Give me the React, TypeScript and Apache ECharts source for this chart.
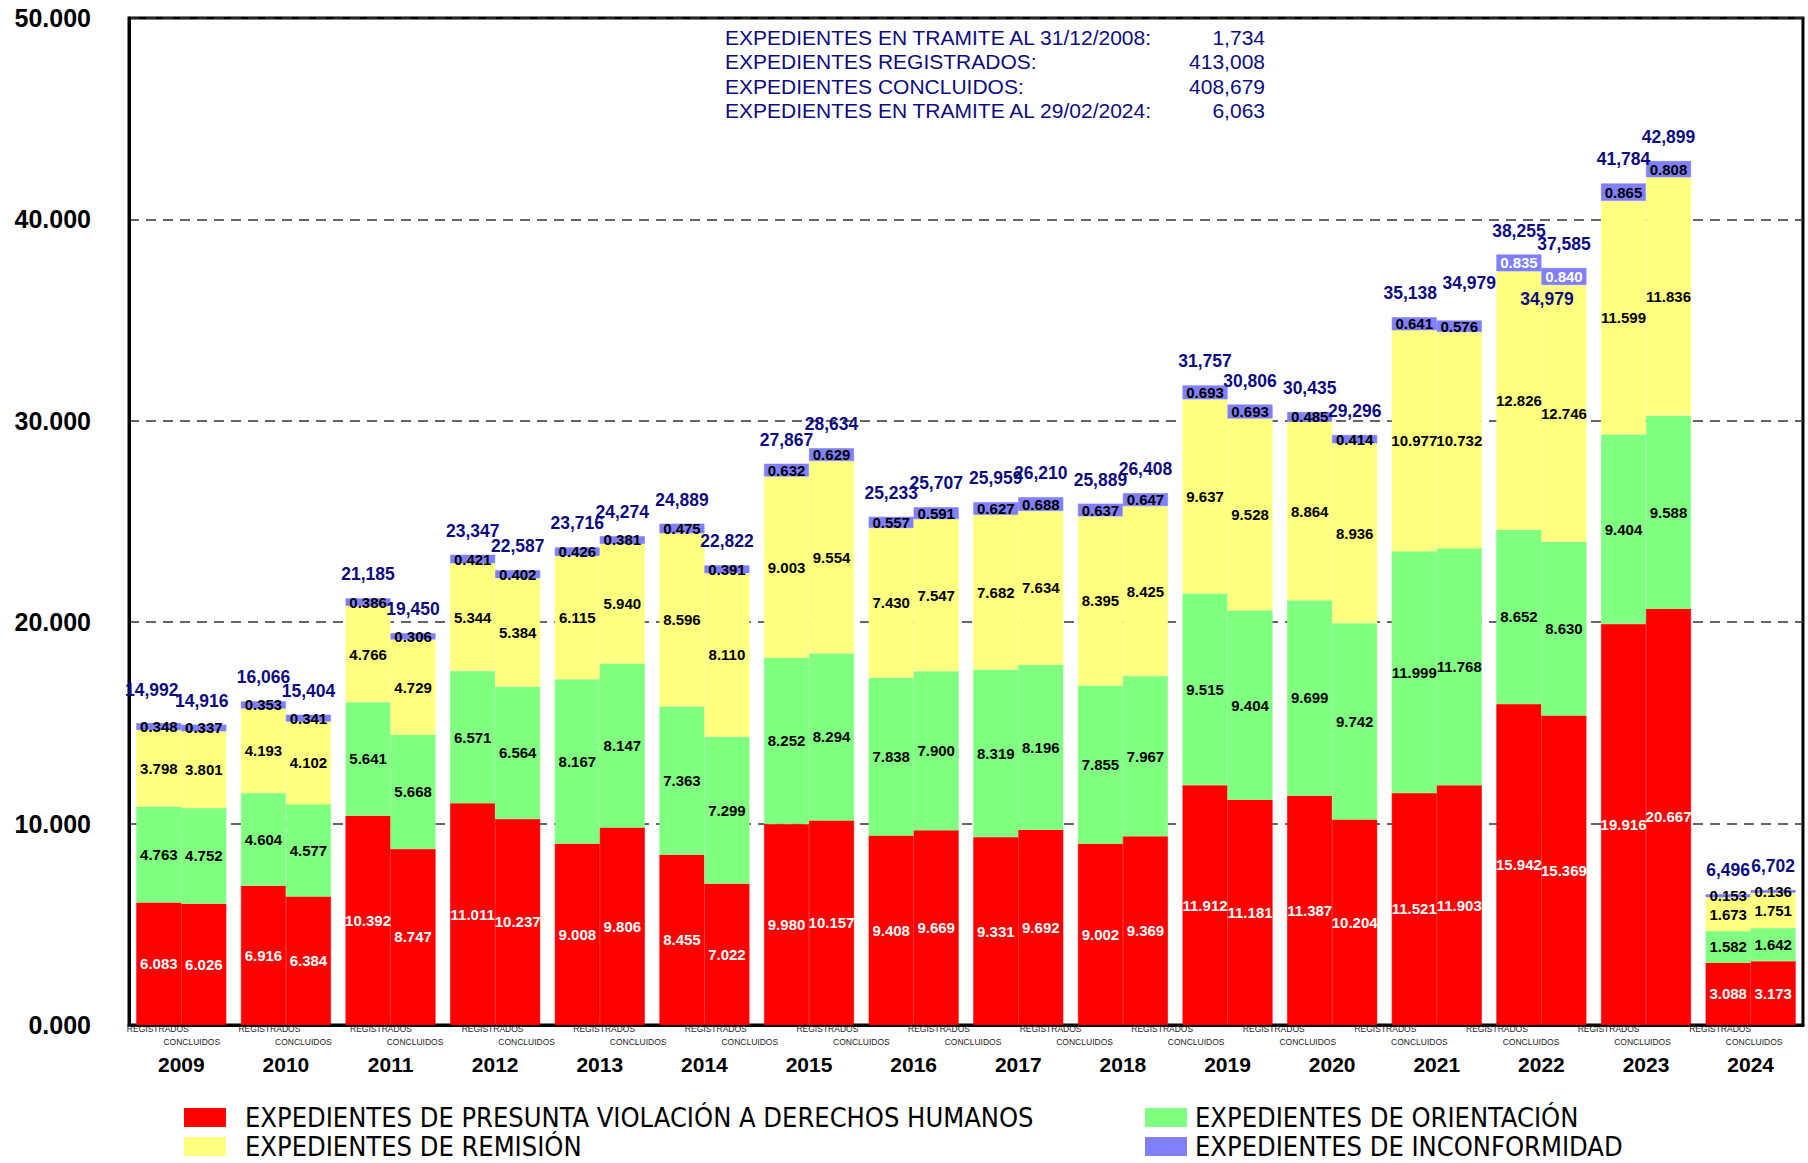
import React, { useEffect, useRef } from 'react';
import * as echarts from 'echarts';

const years = ['2009', '2010', '2011', '2012', '2013', '2014', '2015', '2016', '2017', '2018', '2019', '2020', '2021', '2022', '2023', '2024'];

const regViolacion = [6083, 6916, 10392, 11011, 9008, 8455, 9980, 9408, 9331, 9002, 11912, 11387, 11521, 15942, 19916, 3088];
const concViolacion = [6026, 6384, 8747, 10237, 9806, 7022, 10157, 9669, 9692, 9369, 11181, 10204, 11903, 15369, 20667, 3173];
const regOrientacion = [4763, 4604, 5641, 6571, 8167, 7363, 8252, 7838, 8319, 7855, 9515, 9699, 11999, 8652, 9404, 1582];
const concOrientacion = [4752, 4577, 5668, 6564, 8147, 7299, 8294, 7900, 8196, 7967, 9404, 9742, 11768, 8630, 9588, 1642];
const regRemision = [3798, 4193, 4766, 5344, 6115, 8596, 9003, 7430, 7682, 8395, 9637, 8864, 10977, 12826, 11599, 1673];
const concRemision = [3801, 4102, 4729, 5384, 5940, 8110, 9554, 7547, 7634, 8425, 9528, 8936, 10732, 12746, 11836, 1751];
const regInconformidad = [348, 353, 386, 421, 426, 475, 632, 557, 627, 637, 693, 485, 641, 835, 865, 153];
const concInconformidad = [337, 341, 306, 402, 381, 391, 629, 591, 688, 647, 693, 414, 576, 840, 808, 136];
const regTotals = [14992, 16066, 21185, 23347, 23716, 24889, 27867, 25233, 25959, 25889, 31757, 30435, 35138, 38255, 41784, 6496];
const concTotals = [14916, 15404, 19450, 22587, 24274, 22822, 28634, 25707, 26210, 26408, 30806, 29296, 34979, 37585, 42899, 6702];

// stray total label that appears inside the 2022 CONCLUIDOS bar in the original
const strayLabelYear = '2022';
const strayLabelValue = 34979;

// 15 slots for the small "REGISTRADOS / CONCLUIDOS" captions under the axis
const subCaptionSlots = ['1', '2', '3', '4', '5', '6', '7', '8', '9', '10', '11', '12', '13', '14', '15'];

const infoLabels = [
  'EXPEDIENTES EN TRAMITE AL 31/12/2008:',
  'EXPEDIENTES REGISTRADOS:',
  'EXPEDIENTES CONCLUIDOS:',
  'EXPEDIENTES EN TRAMITE AL 29/02/2024:',
];
const infoValues = ['1,734', '413,008', '408,679', '6,063'];

const NAME_VIOL = 'EXPEDIENTES DE PRESUNTA VIOLACIÓN A DERECHOS HUMANOS';
const NAME_ORI = 'EXPEDIENTES DE ORIENTACIÓN';
const NAME_REM = 'EXPEDIENTES DE REMISIÓN';
const NAME_INC = 'EXPEDIENTES DE INCONFORMIDAD';
const whiteInconfYears = ['2022'];

// small label nudges (style only) for total labels that sit off-centre in the original
const regTotalNudge: Record<string, number[]> = { '2009': [-7, -9], '2021': [-4, 0] };
const concTotalNudge: Record<string, number[]> = { '2009': [-2, 0], '2021': [10, -14] };

const CONDENSED = "'DejaVu Sans Condensed', 'Liberation Sans', sans-serif";
const SANS = "'Liberation Sans', Arial, sans-serif";
const NAVY = '#0c0c80';

const C_RED = '#ff0000';
const C_GREEN = '#80ff80';
const C_YELLOW = '#ffff80';
const C_BLUE = '#8080ff';

const fmtSeg = (v: number) => (v / 1000).toFixed(3);
const fmtTotal = (v: number) => v.toLocaleString('en-US');

function segSeries(name: string, stack: string, data: any[], color: string, labelColor: string) {
  return {
    name,
    type: 'bar',
    stack,
    stackStrategy: 'all',
    xAxisIndex: 0,
    barWidth: 45,
    barGap: '0%',
    itemStyle: { color, borderColor: color, borderWidth: 0.6 },
    label: {
      show: true,
      position: 'inside',
      color: labelColor,
      fontFamily: SANS,
      fontWeight: 'bold',
      fontSize: 15,
      formatter: (p: any) => fmtSeg(p.value),
    },
    emphasis: { disabled: true },
    data,
  };
}

function inconfData(values: number[]) {
  return values.map((v, i) => ({
    value: v,
    label: { color: whiteInconfYears.includes(years[i]) ? '#ffffff' : '#000000' },
  }));
}

function totalSeries(name: string, stack: string, totals: number[], nudges: Record<string, number[]>, extra: any = {}) {
  return {
    name,
    type: 'bar',
    stack,
    stackStrategy: 'all',
    xAxisIndex: 0,
    barWidth: 45,
    barGap: '0%',
    silent: true,
    itemStyle: { color: 'rgba(0,0,0,0)' },
    label: {
      show: true,
      position: 'top',
      distance: 15,
      color: NAVY,
      fontFamily: SANS,
      fontWeight: 'bold',
      fontSize: 17.5,
      formatter: (p: any) => fmtTotal(totals[p.dataIndex]),
    },
    data: totals.map((_, i) => (nudges[years[i]] ? { value: 0, label: { offset: nudges[years[i]] } } : 0)),
    ...extra,
  };
}

export default function App() {
  const ref = useRef<HTMLDivElement>(null);

  useEffect(() => {
    if (!ref.current) return;
    const chart = echarts.init(ref.current, undefined, { renderer: 'svg' });

    const graphic: any[] = [];
    infoLabels.forEach((t, i) => {
      graphic.push({
        type: 'text',
        x: 725,
        y: 37 + i * 24.6,
        style: { text: t, fontFamily: SANS, fontSize: 21, fill: NAVY, align: 'left', verticalAlign: 'middle' },
      });
    });
    infoValues.forEach((t, i) => {
      graphic.push({
        type: 'text',
        x: 1265,
        y: 37 + i * 24.6,
        style: { text: t, fontFamily: SANS, fontSize: 21, fill: NAVY, align: 'right', verticalAlign: 'middle' },
      });
    });

    const legendBase = {
      orient: 'vertical',
      top: 1104,
      height: 90,
      padding: 0,
      itemWidth: 40,
      itemHeight: 17,
      itemGap: 2,
      icon: 'rect',
      selectedMode: false,
    };

    const option: any = {
      animation: false,
      backgroundColor: '#ffffff',
      grid: {
        left: 129,
        right: 2,
        top: 18,
        bottom: 138,
        show: true,
        borderColor: '#000',
        borderWidth: 3,
        backgroundColor: 'rgba(0,0,0,0)',
        containLabel: false,
      },
      legend: [
        {
          ...legendBase,
          left: 184,
          data: [NAME_VIOL, NAME_REM],
          textStyle: { fontFamily: CONDENSED, fontSize: 27, color: '#000', lineHeight: 27, padding: [0, 0, 0, 15] },
        },
        {
          ...legendBase,
          left: 1145,
          data: [NAME_ORI, NAME_INC],
          textStyle: { fontFamily: CONDENSED, fontSize: 27, color: '#000', lineHeight: 27, padding: [0, 0, 0, 4] },
        },
      ],
      xAxis: [
        {
          type: 'category',
          data: years,
          position: 'bottom',
          axisLine: { show: true, lineStyle: { color: '#000', width: 3 } },
          axisTick: { show: false },
          splitLine: { show: false },
          axisLabel: {
            interval: 0,
            margin: 29,
            fontFamily: SANS,
            fontWeight: 'bold',
            fontSize: 21,
            color: '#000',
          },
        },
        {
          type: 'category',
          data: subCaptionSlots,
          position: 'bottom',
          axisLine: { show: false },
          axisTick: { show: false },
          splitLine: { show: false },
          axisLabel: {
            interval: 0,
            margin: -3,
            formatter: () => '{r|REGISTRADOS}\n{c|CONCLUIDOS}',
            rich: {
              r: { fontFamily: SANS, fontSize: 8.5, color: '#222', lineHeight: 13.5, padding: [0, 54, 0, 0] },
              c: { fontFamily: SANS, fontSize: 8.5, color: '#222', lineHeight: 13.5, padding: [0, 0, 0, 14] },
            },
          },
        },
      ],
      yAxis: {
        type: 'value',
        min: 0,
        max: 50000,
        interval: 10000,
        axisLine: { show: true, lineStyle: { color: '#000', width: 3 } },
        axisTick: { show: false },
        splitLine: { show: true, lineStyle: { color: '#333', width: 1.5, type: [10, 7] } },
        axisLabel: {
          margin: 38,
          fontFamily: SANS,
          fontWeight: 'bold',
          fontSize: 25,
          color: '#000',
          formatter: (v: number) => (v / 1000).toFixed(3),
        },
      },
      series: [
        segSeries(NAME_VIOL, 'reg', regViolacion, C_RED, '#ffffff'),
        segSeries(NAME_ORI, 'reg', regOrientacion, C_GREEN, '#000000'),
        segSeries(NAME_REM, 'reg', regRemision, C_YELLOW, '#000000'),
        segSeries(NAME_INC, 'reg', inconfData(regInconformidad), C_BLUE, '#000000'),
        totalSeries('TOTAL REGISTRADOS', 'reg', regTotals, regTotalNudge),
        segSeries(NAME_VIOL, 'conc', concViolacion, C_RED, '#ffffff'),
        segSeries(NAME_ORI, 'conc', concOrientacion, C_GREEN, '#000000'),
        segSeries(NAME_REM, 'conc', concRemision, C_YELLOW, '#000000'),
        segSeries(NAME_INC, 'conc', inconfData(concInconformidad), C_BLUE, '#000000'),
        totalSeries('TOTAL CONCLUIDOS', 'conc', concTotals, concTotalNudge, {
          markPoint: {
            symbol: 'rect',
            symbolSize: 1,
            itemStyle: { color: 'rgba(0,0,0,0)' },
            silent: true,
            label: {
              show: true,
              position: 'top',
              distance: 12,
              offset: [-17, 0],
              color: NAVY,
              fontFamily: SANS,
              fontWeight: 'bold',
              fontSize: 17.5,
              formatter: () => fmtTotal(strayLabelValue),
            },
            data: [{ coord: [strayLabelYear, strayLabelValue], value: strayLabelValue }],
          },
        }),
      ],
      graphic,
    };

    chart.setOption(option);
    return () => chart.dispose();
  }, []);

  return <div ref={ref} style={{ position: 'absolute', left: 0, top: 0, width: 1808, height: 1163 }} />;
}
